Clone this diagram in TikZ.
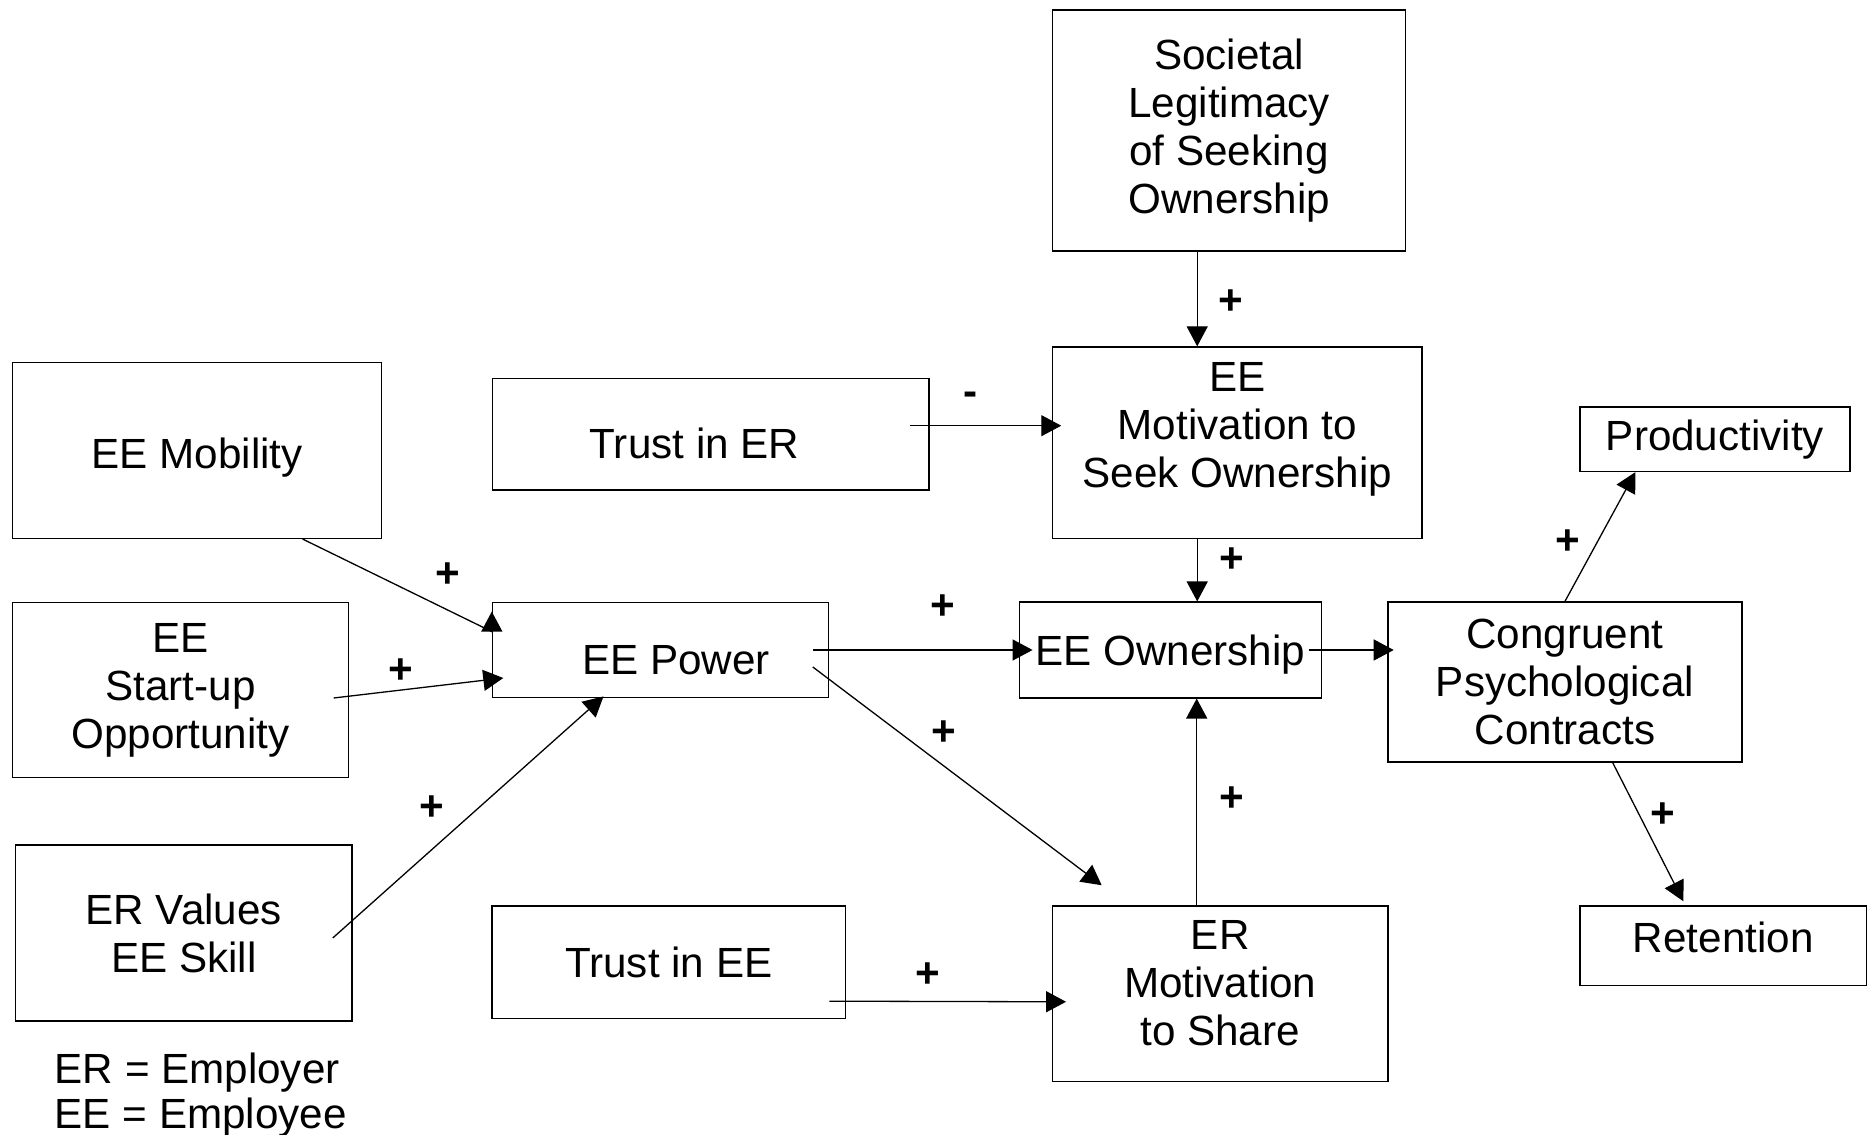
\documentclass[tikz,border=0pt]{standalone}
\usepackage{fontspec}
\setmainfont{Liberation Sans}
\usetikzlibrary{arrows.meta}

\begin{document}
\begin{tikzpicture}[x=1pt,y=1pt,
    box/.style={draw,line width=1.4pt,inner sep=0pt,align=center,font=\fontsize{42.2}{48}\selectfont},
    lab/.style={inner sep=0pt,font=\fontsize{42.2}{48}\selectfont\bfseries},
    key/.style={inner sep=0pt,anchor=base west,font=\fontsize{42.2}{48}\selectfont},
    arr/.style={line width=1.3pt,-{Triangle[length=20pt,width=21pt]}}]
  \useasboundingbox (0,0) rectangle (1869,1135);

  \node[box,minimum width=353pt,minimum height=241pt] (soc) at (1229.2,1004.5) {Societal\\Legitimacy\\of Seeking\\Ownership};
  \node[box,minimum width=369.5pt,minimum height=191.3pt,text depth=35pt] (eemot) at (1237.4,692.3) {EE\\Motivation to\\Seek Ownership};
  \node[box,minimum width=436.5pt,minimum height=111.7pt,text height=48pt,text depth=0pt] (trusterr) at (710.8,700.8) {Trust in ER\hspace*{32.6pt}};
  \node[box,minimum width=369pt,minimum height=176pt,text height=45pt,text depth=9pt] (mob) at (197.2,684.7) {EE Mobility};
  \node[box,minimum width=335.8pt,minimum height=175.4pt] (startup) at (180.5,445) {EE\\Start-up\\Opportunity};
  \node[box,minimum width=336pt,minimum height=95.4pt,text height=50pt,text depth=0pt] (power) at (660.5,485) {\hspace*{31pt}EE Power};
  \node[box,minimum width=302.2pt,minimum height=95.7pt,text depth=0pt] (own) at (1170.4,485) {EE Ownership};
  \node[box,minimum width=353.8pt,minimum height=159.7pt] (congr) at (1564.9,453) {Congruent\\Psychological\\Contracts};
  \node[box,minimum width=270.2pt,minimum height=64.5pt] (prod) at (1714.9,695.8) {Productivity};
  \node[box,minimum width=336.5pt,minimum height=176pt] (values) at (183.8,202) {ER Values\\EE Skill};
  \node[box,minimum width=353.6pt,minimum height=112.3pt] (trustee) at (668.8,172.8) {Trust in EE};
  \node[box,minimum width=335.7pt,minimum height=175.7pt,text depth=21pt] (ermot) at (1220.2,141.2) {ER\\Motivation\\to Share};
  \node[box,minimum width=286.7pt,minimum height=79.7pt,text depth=18pt] (ret) at (1723.3,189.2) {Retention};

  \node[key] (erkey) at (54.5,51.7) {ER = Employer};
  \node[key] (eekey) at (54.5,6.7) {EE = Employee};

  \draw[arr] ([xshift=-32pt]soc.south) -- node[lab,xshift=34pt,yshift=-3pt] {+} ([xshift=-40.2pt]eemot.north);
  \draw[arr] ([xshift=-20pt,yshift=8.5pt]trusterr.east) -- node[lab,xshift=-14.5pt,yshift=27pt] {-} ([xshift=9.3pt,yshift=17pt]eemot.west);
  \draw[arr] ([xshift=-40.2pt]eemot.south) -- node[lab,xshift=34.3pt,yshift=10.3pt] {+} ([xshift=26.8pt]own.north);
  \draw[arr] ([xshift=105.3pt]mob.south) -- node[lab,xshift=50.3pt,yshift=9.8pt] {+} ([yshift=-30pt]power.north west) -- ([yshift=-10pt]power.north west);
  \draw[arr] ([xshift=-15.4pt,yshift=-8pt]startup.east) -- node[lab,xshift=-18pt,yshift=17.2pt] {+} ([xshift=11.5pt,yshift=-28pt]power.west);
  \draw[arr] ([xshift=-20pt,yshift=-5pt]values.east) -- node[lab,xshift=-36.3pt,yshift=8.6pt] {+} ([xshift=-57pt,yshift=2pt]power.south);
  \draw[arr] ([xshift=-16pt]power.east) -- node[lab,xshift=20pt,yshift=43pt] {+} ([xshift=14pt]own.west);
  \draw[arr] ([xshift=-16.4pt,yshift=-17pt]power.east) -- node[lab,xshift=-13pt,yshift=42.5pt] {+} ([xshift=-118.5pt,yshift=20pt]ermot.north);
  \draw[arr] ([xshift=-17pt,yshift=-39pt]trustee.east) -- node[lab,xshift=-20pt,yshift=26.5pt] {+} ([xshift=14.4pt,yshift=-8pt]ermot.west);
  \draw[arr] ([xshift=-23.5pt]ermot.north) -- node[lab,xshift=34.8pt,yshift=3pt] {+} ([xshift=26.3pt]own.south);
  \draw[arr] ([xshift=-13.5pt]own.east) -- ([xshift=6.4pt,yshift=32pt]congr.west);
  \draw[arr] (congr.north) -- node[lab,xshift=-32.5pt,yshift=-5.7pt] {+} ([xshift=-79.5pt]prod.south);
  \draw[arr] ([xshift=47.7pt]congr.south) -- node[lab,xshift=15.3pt,yshift=16.8pt] {+} ([xshift=-40pt,yshift=4pt]ret.north);
\end{tikzpicture}
\end{document}
